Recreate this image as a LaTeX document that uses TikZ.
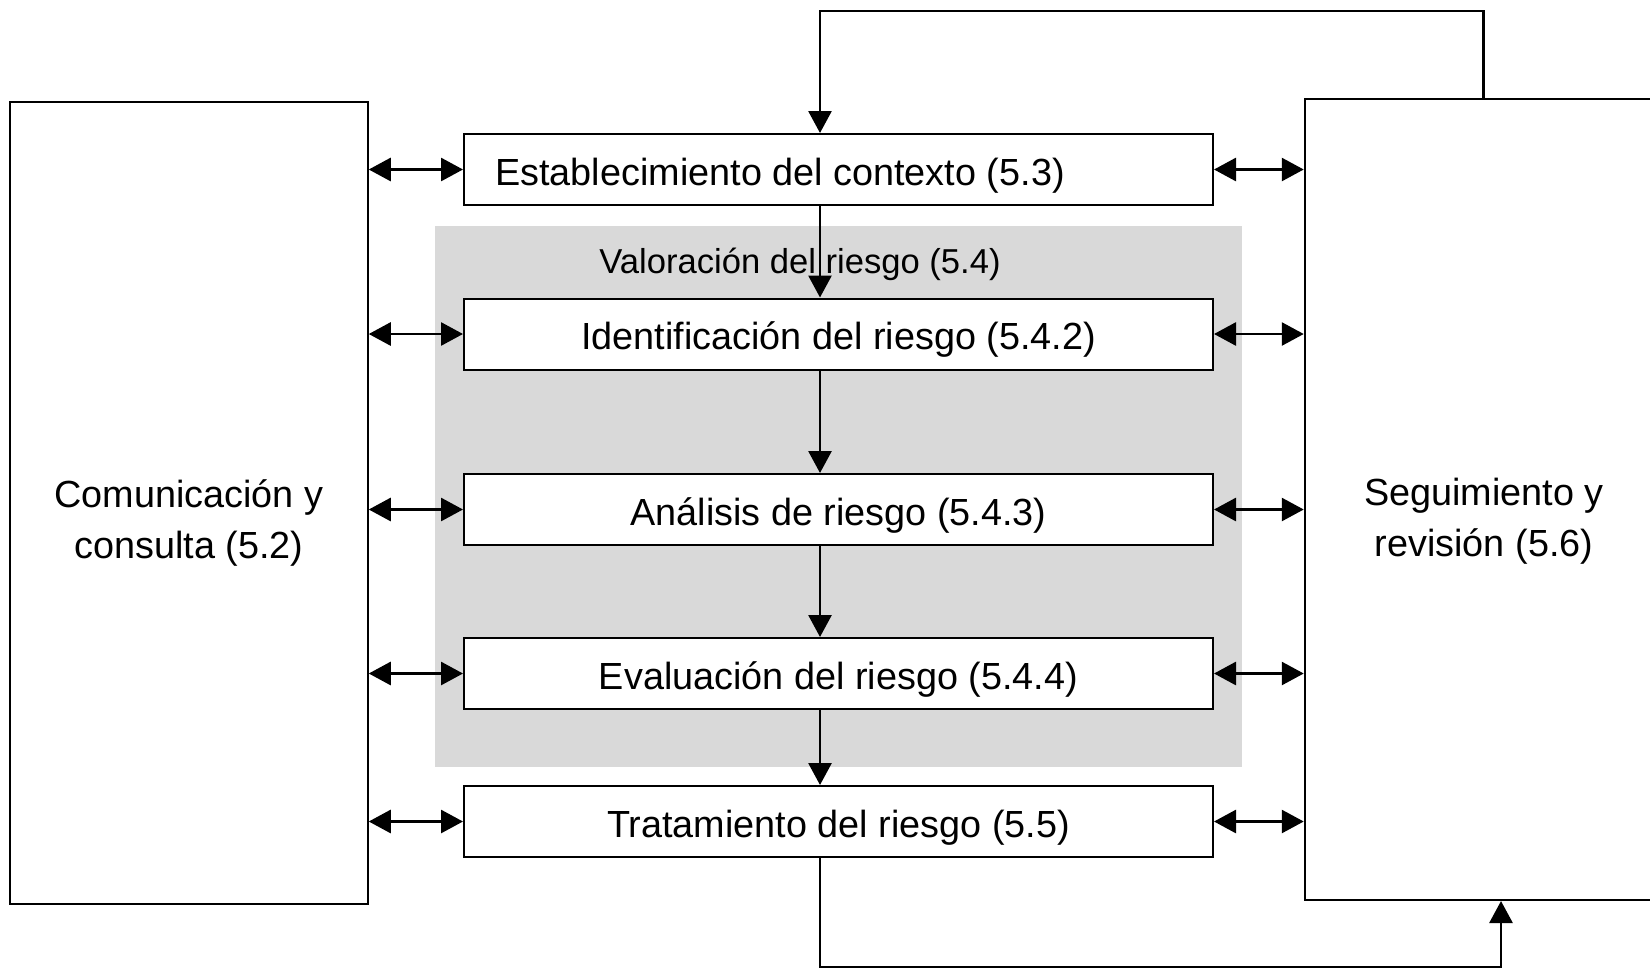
\documentclass[tikz,border=0pt]{standalone}
\usepackage{fontspec}
\setmainfont{Liberation Sans}
\usetikzlibrary{arrows.meta}

\tikzset{
  txt/.style={font=\fontsize{18.9pt}{25.5pt}\selectfont, align=center},
  box/.style={draw, line width=1pt, fill=white, minimum width=374.5pt, minimum height=35.5pt,
    inner sep=0pt, text height=15.5pt, text depth=0pt, txt},
  side/.style={draw, line width=1pt, minimum width=178.75pt, inner sep=0pt},
  link/.style={line width=1.4pt, -{Triangle[length=11pt,width=11.5pt]}},
  both/.style={line width=1.4pt, {Triangle[length=11pt,width=11.5pt]}-{Triangle[length=11pt,width=11.5pt]}},
}

\begin{document}
\begin{tikzpicture}[x=0.5pt,y=-0.5pt]
\useasboundingbox (0,0) rectangle (1650,970);

% valoracion del riesgo
\node[fill=gray!30, minimum width=403.5pt, minimum height=270.5pt, inner sep=0pt] (val) at (838.5,496.5) {};
\node[font=\fontsize{17.3pt}{21pt}\selectfont] (valtxt) at (800,264) {Valoración del riesgo (5.4)};

\node[box] (est) at (838.5,169.5) {Establecimiento del contexto (5.3)\hspace{58.5pt}};
\node[box] (ide) at (838.5,334) {Identificación del riesgo (5.4.2)};
\node[box] (ana) at (838.5,509.5) {Análisis de riesgo (5.4.3)};
\node[box] (eva) at (838.5,673.5) {Evaluación del riesgo (5.4.4)};
\node[box] (tra) at (838.5,821.5) {Tratamiento del riesgo (5.5)};

\node[side, minimum height=401pt] (com) at (189,503) {};
\node[side, minimum height=400.5pt] (seg) at (1483.5,499.5) {};
\node[txt] (comtxt) at (189,523) {Comunicación y\\consulta (5.2)};
\node[txt] (segtxt) at (1484,521) {Seguimiento y\\revisión (5.6)};

\coordinate (top) at (820,11);
\coordinate (bot) at (820,967);
\coordinate (botr) at (1501,967);

\draw[link] (seg.north) |- (top) -- (est.north -| top);

\foreach \from/\to in {est/ide, ide/ana, ana/eva, eva/tra}
    \draw[link] (\from.south -| top) -- (\to.north -| top);

\draw[link] (tra.south -| bot) -- (bot) -- (botr) -- (seg.south -| botr);

\foreach \n in {est, ide, ana, eva, tra}
{
    \draw[both] (com.east |- \n) -- (\n.west);
    \draw[both] (\n.east) -- (seg.west |- \n);
}

\end{tikzpicture}
\end{document}
